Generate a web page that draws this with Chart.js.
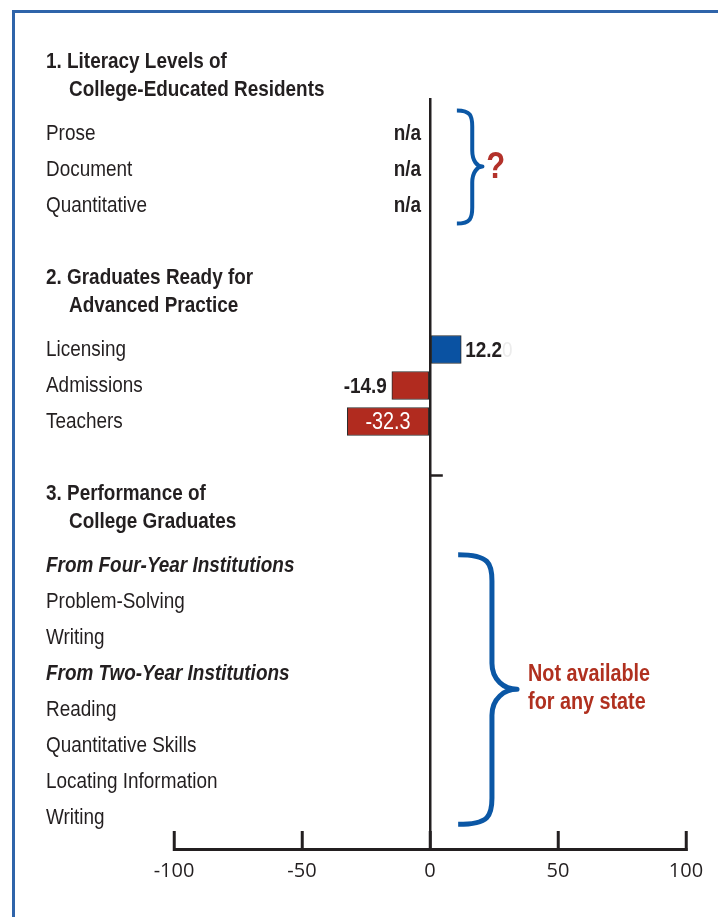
<!DOCTYPE html>
<html>
<head>
<meta charset="utf-8">
<script src="https://cdn.jsdelivr.net/npm/chart.js@4.4.1/dist/chart.umd.min.js"></script>
<style>
  html, body { margin: 0; padding: 0; background: #fff; }
  #wrap { position: relative; width: 718px; height: 917px; overflow: hidden; }
  #frame { position: absolute; left: 12px; top: 10px; right: -10px; bottom: -10px;
           border-left: 3px solid #2f64aa; border-top: 3px solid #2f64aa; pointer-events: none; }
  canvas { position: absolute; left: 0; top: 0; }
</style>
</head>
<body>
<div id="wrap">
  <canvas id="cchart" width="718" height="917" style="width:718px;height:917px"></canvas>
  <div id="frame"></div>
</div>
<script>
// rows, top to bottom
const rowLabels = [
    "1. Literacy Levels of", "College-Educated Residents",
    "Prose", "Document", "Quantitative",
    "",
    "2. Graduates Ready for", "Advanced Practice",
    "Licensing", "Admissions", "Teachers",
    "",
    "3. Performance of", "College Graduates",
    "From Four-Year Institutions", "Problem-Solving", "Writing",
    "From Two-Year Institutions", "Reading", "Quantitative Skills", "Locating Information", "Writing"
];
const rowKinds = [
    "title", "title2",
    "item", "item", "item",
    "",
    "title", "title2",
    "item", "item", "item",
    "",
    "title", "title2",
    "sub", "item", "item",
    "sub", "item", "item", "item", "item"
];
const barValues = [
    null, null,
    null, null, null,
    null,
    null, null,
    12.2, -14.9, -32.3,
    null,
    null, null,
    null, null, null,
    null, null, null, null, null
];
const naRows = ["Prose", "Document", "Quantitative"];
const xTicks = [-100, -50, 0, 50, 100];

const SANS = "'Liberation Sans', Arial, sans-serif";
const SQUEEZE = 0.86;   // fake a condensed face
const INK = "#231f20";
const BLUE = "#0a52a2";
const RED = "#b12b1f";
const BRACE = "#0b57a5";

let points = [];
barValues.forEach((v, i) => {
    if (v !== null) points.push({ x: v, y: i });
});

/*
    Draw text horizontally squeezed, returns drawn width
*/
function narrowText(ctx, text, x, y, font, align, color) {
    ctx.save();
    ctx.font = font;
    ctx.fillStyle = color;
    ctx.textAlign = align;
    ctx.textBaseline = "middle";
    ctx.translate(x, y);
    ctx.scale(SQUEEZE, 1);
    ctx.fillText(text, 0, 0);
    let w = ctx.measureText(text).width * SQUEEZE;
    ctx.restore();
    return w;
}

/*
    Curly brace opening to the left, point on the right
*/
function drawBrace(ctx, x0, xs, xp, yt, ym, yb, r, w) {
    ctx.save();
    ctx.strokeStyle = BRACE;
    ctx.lineWidth = w;
    ctx.lineJoin = "round";
    ctx.beginPath();
    ctx.moveTo(x0, yt);
    ctx.bezierCurveTo(xs - r * 0.1, yt, xs, yt + r * 0.35, xs, yt + r);
    ctx.lineTo(xs, ym - r);
    ctx.bezierCurveTo(xs, ym - r * 0.35, xp - (xp - xs) * 0.5, ym, xp, ym);
    ctx.bezierCurveTo(xp - (xp - xs) * 0.5, ym, xs, ym + r * 0.35, xs, ym + r);
    ctx.lineTo(xs, yb - r);
    ctx.bezierCurveTo(xs, yb - r * 0.35, xs - r * 0.1, yb, x0, yb);
    ctx.stroke();
    ctx.restore();
}

const overlay = {
    id: "overlay",
    afterDraw(chart) {
        const { ctx, scales: { x, y } } = chart;

        // row labels
        rowLabels.forEach((t, i) => {
            if (!t) return;
            let py = y.getPixelForValue(i);
            let px = 46;
            let font = "22px " + SANS;
            switch (rowKinds[i]) {
                case "title":
                    font = "bold 22px " + SANS;
                    break;
                case "title2":
                    font = "bold 22px " + SANS;
                    py -= 8;
                    px = 69;
                    break;
                case "sub":
                    font = "italic bold 22px " + SANS;
                    break;
            }
            narrowText(ctx, t, px, py, font, "left", INK);
        });

        // n/a values
        naRows.forEach(name => {
            let i = rowLabels.indexOf(name);
            narrowText(ctx, "n/a", x.getPixelForValue(0) - 9, y.getPixelForValue(i), "bold 22px " + SANS, "right", INK);
        });

        // bar values
        let meta = chart.getDatasetMeta(0);
        meta.data.forEach((bar, j) => {
            let v = points[j].x;
            let txt = v.toFixed(1);
            if (Math.abs(v) > 20) {
                narrowText(ctx, txt, (bar.x + bar.base) / 2, bar.y + 1, "23px " + SANS, "center", "#fff");
            } else if (v < 0) {
                narrowText(ctx, txt, bar.x - 5, bar.y + 1, "bold 22px " + SANS, "right", INK);
            } else {
                let w = narrowText(ctx, txt, bar.x + 4, bar.y + 1, "bold 22px " + SANS, "left", INK);
                narrowText(ctx, "0", bar.x + 4 + w, bar.y + 1, "22px " + SANS, "left", "#ececec");
            }
        });

        // small stub between groups 2 and 3
        ctx.save();
        ctx.strokeStyle = INK;
        ctx.lineWidth = 2.5;
        ctx.beginPath();
        ctx.moveTo(x.getPixelForValue(0), y.getPixelForValue(11.5));
        ctx.lineTo(x.getPixelForValue(5), y.getPixelForValue(11.5));
        ctx.stroke();
        ctx.restore();

        // braces and notes
        drawBrace(ctx, x.getPixelForValue(10.5), x.getPixelForValue(16.5), x.getPixelForValue(20.5),
            y.getPixelForValue(1.36), y.getPixelForValue(2.92), y.getPixelForValue(4.5), 16, 4);
        drawBrace(ctx, x.getPixelForValue(11), x.getPixelForValue(24.2), x.getPixelForValue(34),
            y.getPixelForValue(13.7), y.getPixelForValue(17.44), y.getPixelForValue(21.19), 26, 5);

        narrowText(ctx, "?", x.getPixelForValue(22), y.getPixelForValue(2.95), "bold 36px " + SANS, "left", "#b3312a");
        narrowText(ctx, "Not available", x.getPixelForValue(38.3), y.getPixelForValue(17.03), "bold 23px " + SANS, "left", "#b0301f");
        narrowText(ctx, "for any state", x.getPixelForValue(38.3), y.getPixelForValue(17.8), "bold 23px " + SANS, "left", "#b0301f");
    }
};

const chart = new Chart(document.getElementById("cchart").getContext("2d"), {
    type: "bar",
    data: {
        datasets: [{
            data: points,
            backgroundColor: ctx => (ctx.raw && ctx.raw.x < 0) ? RED : BLUE,
            borderColor: "#2b2b2b",
            borderWidth: 1,
            borderSkipped: false,
            barThickness: 28
        }]
    },
    options: {
        indexAxis: "y",
        responsive: false,
        animation: false,
        devicePixelRatio: 1,
        layout: { padding: { left: 174, right: 32, top: 98, bottom: 6 } },
        plugins: { legend: { display: false }, tooltip: { enabled: false } },
        scales: {
            y: {
                type: "linear",
                reverse: true,
                offset: false,
                grace: 0,
                min: 36.5 / 36,
                max: 787.5 / 36,
                display: false
            },
            x: {
                type: "linear",
                min: -100,
                max: 100,
                afterBuildTicks: s => { s.ticks = xTicks.map(v => ({ value: v })); },
                // labels fit inside the layout padding already
                afterFit: s => { s.paddingLeft = 0; s.paddingRight = 0; },
                border: { display: true, color: INK, width: 3 },
                grid: {
                    drawOnChartArea: true,
                    drawTicks: true,
                    tickLength: -18,
                    tickColor: INK,
                    tickWidth: 3,
                    color: c => (c.tick && c.tick.value === 0) ? INK : "rgba(0,0,0,0)",
                    lineWidth: 2.5
                },
                ticks: {
                    padding: 28,
                    color: INK,
                    font: { family: "'Open Sans', sans-serif", size: 20 }
                }
            }
        }
    },
    plugins: [overlay]
});
</script>
</body>
</html>
